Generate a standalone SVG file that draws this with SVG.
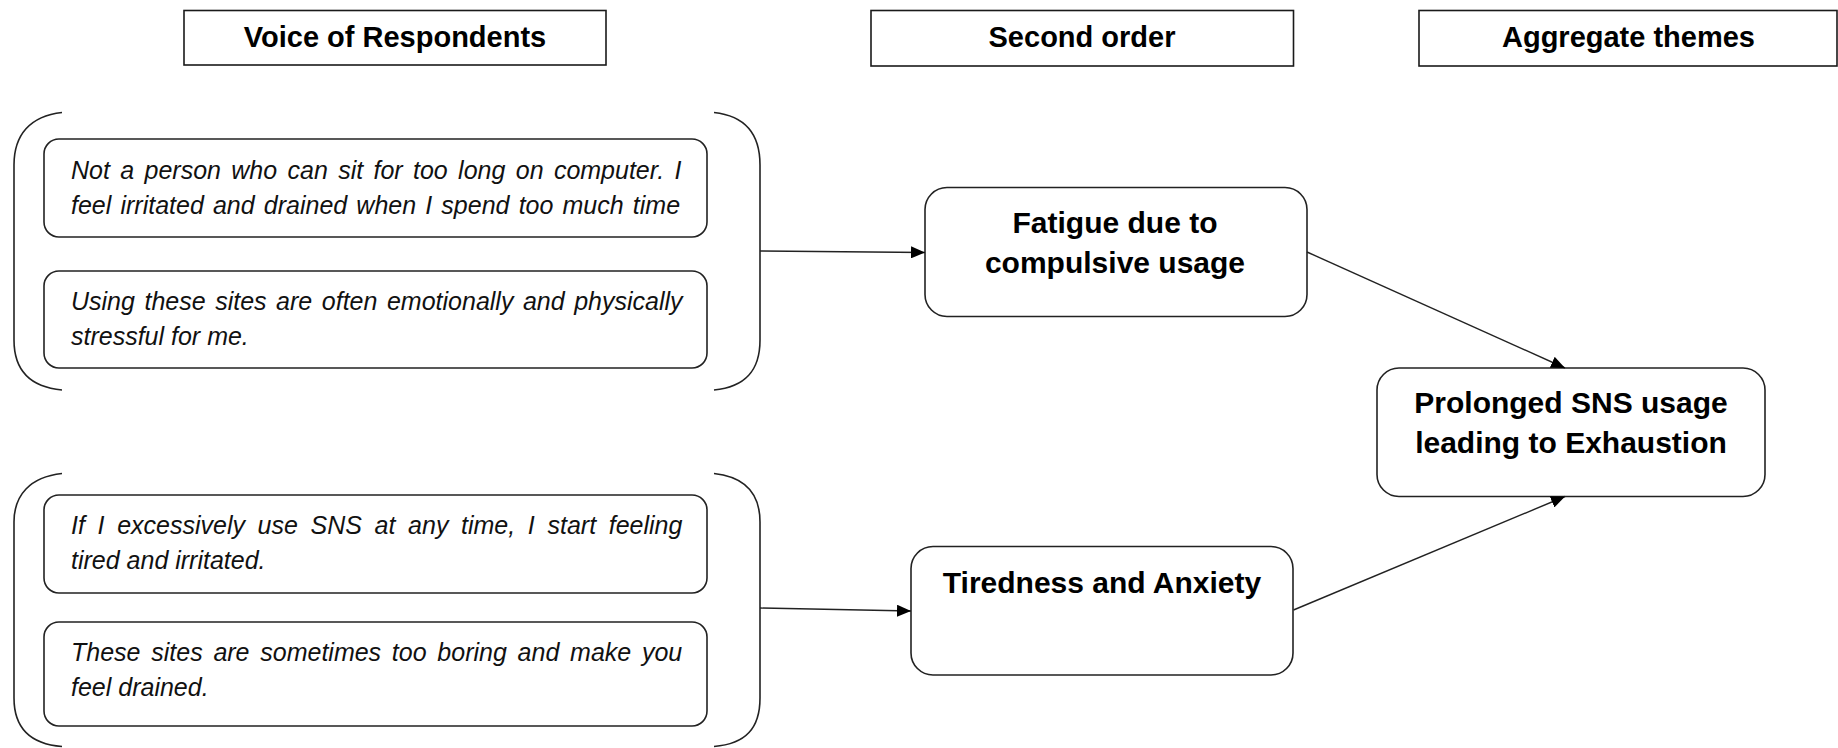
<svg xmlns="http://www.w3.org/2000/svg" width="1838" height="748" viewBox="0 0 1838 748">
<style>
.hdr{fill:#fff;stroke:#1a1a1a;stroke-width:1.6}
.hdrt{font-family:"Liberation Sans",Arial,sans-serif;font-weight:bold;font-size:29px;fill:#000;text-anchor:middle}
.quote{fill:#fff;stroke:#222;stroke-width:1.6}
.qt{font-family:"Liberation Sans",Arial,sans-serif;font-style:italic;font-size:25px;fill:#111}
.node{fill:#fff;stroke:#222;stroke-width:1.6}
.nt{font-family:"Liberation Sans",Arial,sans-serif;font-weight:bold;font-size:30px;fill:#000;text-anchor:middle}
.brace{fill:none;stroke:#222;stroke-width:1.6}
.conn{fill:none;stroke:#222;stroke-width:1.4}
</style>
<defs>
<marker id="arr" markerUnits="userSpaceOnUse" markerWidth="14" markerHeight="12" refX="14" refY="6" orient="auto">
<path d="M0,0 L14,6 L0,12 z" fill="#000"/>
</marker>
</defs>
<rect width="1838" height="748" fill="#fff"/>

<g id="header-voice">
<rect class="hdr" x="184" y="10.5" width="422" height="54.5"/>
<text class="hdrt" x="395" y="47">Voice of Respondents</text>
</g>
<g id="header-second">
<rect class="hdr" x="871" y="10.5" width="422.5" height="55.5"/>
<text class="hdrt" x="1082" y="47">Second order</text>
</g>
<g id="header-aggregate">
<rect class="hdr" x="1419" y="10.5" width="418" height="55.5"/>
<text class="hdrt" x="1628.5" y="47">Aggregate themes</text>
</g>

<g id="group-1">
<path class="brace" d="M62,112.5 C30,116 14,135 14,165 L14,340 C14,370 30,387 62,390"/>
<path class="brace" d="M714,112.5 C746,116 760,135 760,165 L760,340 C760,370 746,387 714,390"/>
</g>
<g id="quote-1">
<rect class="quote" x="44" y="139" width="663" height="98" rx="15"/>
<text class="qt" x="71" y="178.5" word-spacing="3.4">Not a person who can sit for too long on computer. I</text>
<text class="qt" x="71" y="213.5" word-spacing="2.2">feel irritated and drained when I spend too much time</text>
</g>
<g id="quote-2">
<rect class="quote" x="44" y="271" width="663" height="97" rx="15"/>
<text class="qt" x="71" y="310" word-spacing="2.6">Using these sites are often emotionally and physically</text>
<text class="qt" x="71" y="345">stressful for me.</text>
</g>

<g id="group-2">
<path class="brace" d="M62,473.5 C30,477 14,495 14,522 L14,698 C14,728 30,744 62,746.5"/>
<path class="brace" d="M714,473.5 C746,477 760,495 760,522 L760,698 C760,728 746,744 714,746.5"/>
</g>
<g id="quote-3">
<rect class="quote" x="44" y="495" width="663" height="98" rx="15"/>
<text class="qt" x="71" y="534" word-spacing="5.7">If I excessively use SNS at any time, I start feeling</text>
<text class="qt" x="71" y="569">tired and irritated.</text>
</g>
<g id="quote-4">
<rect class="quote" x="44" y="622" width="663" height="104" rx="15"/>
<text class="qt" x="71" y="660.5" word-spacing="3.8">These sites are sometimes too boring and make you</text>
<text class="qt" x="71" y="695.5">feel drained.</text>
</g>

<g id="node-fatigue">
<rect class="node" x="925" y="187.5" width="382" height="129" rx="22"/>
<text class="nt" x="1115" y="232.5">Fatigue due to</text>
<text class="nt" x="1115" y="273">compulsive usage</text>
</g>
<g id="node-tiredness">
<rect class="node" x="911" y="546.5" width="382" height="128.5" rx="22"/>
<text class="nt" x="1102" y="592.5">Tiredness and Anxiety</text>
</g>
<g id="node-prolonged">
<rect class="node" x="1377" y="368" width="388" height="128.5" rx="22"/>
<text class="nt" x="1571" y="412.5">Prolonged SNS usage</text>
<text class="nt" x="1571" y="453">leading to Exhaustion</text>
</g>

<g id="connectors">
<line class="conn" x1="760" y1="251" x2="925" y2="252.5" marker-end="url(#arr)"/>
<line class="conn" x1="760" y1="608" x2="911" y2="611" marker-end="url(#arr)"/>
<line class="conn" x1="1307" y1="252" x2="1565" y2="368" marker-end="url(#arr)"/>
<line class="conn" x1="1293.5" y1="610" x2="1565" y2="496.5" marker-end="url(#arr)"/>
</g>
</svg>
